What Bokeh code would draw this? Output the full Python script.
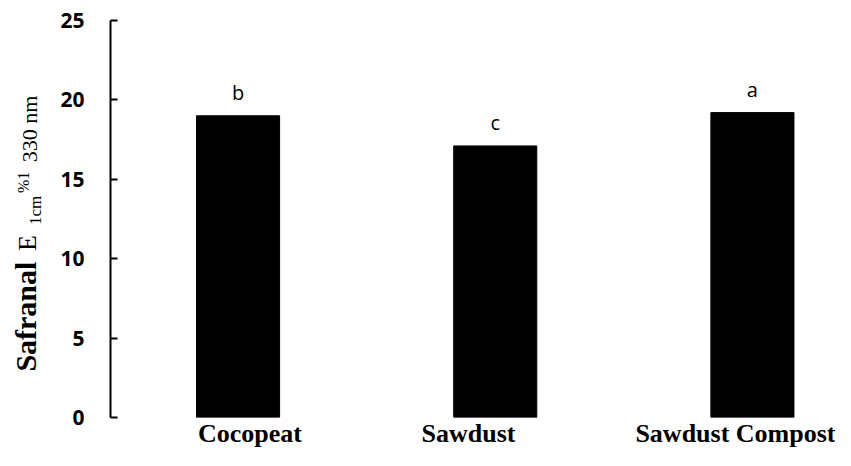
import math
from bokeh.plotting import figure
from bokeh.layouts import row
from bokeh.models import Range1d, ColumnDataSource, FixedTicker
from bokeh.core.properties import value
from bokeh.embed import file_html
from bokeh.resources import INLINE

categories = ["Cocopeat", "Sawdust", "Sawdust Compost"]
safranal = [19.0, 17.1, 19.2]
letters = ["b", "c", "a"]
y_ticks = [0, 5, 10, 15, 20, 25]

# rotated y-axis title pieces: text, font size (px), style, baseline x (px), start y (px from top)
title_text = ["Safranal", "E", "1cm", "%1", "330 nm"]
title_size = [30, 26, 17, 16, 22]
title_style = ["bold", "normal", "normal", "normal", "normal"]
title_bx = [35, 36, 41, 28, 36]
title_sy = [372, 251, 225, 193, 162]

# horizontal shift (px) of each category label relative to its bar, as in the reference
label_shift_px = [12, -27, -15]
PX_PER_CAT = 260.0

H = 450
TW = 50
TOP = 20
BOTTOM = 32

t = figure(width=TW, height=H, output_backend="svg", toolbar_location=None,
           x_range=Range1d(0, TW), y_range=Range1d(BOTTOM, H - TOP),
           x_axis_type=None, y_axis_type=None,
           min_border_left=0, min_border_right=0, min_border_top=TOP, min_border_bottom=BOTTOM)
t.outline_line_color = None
t.xgrid.grid_line_color = None
t.ygrid.grid_line_color = None
for txt, fs, st, bx, sy in zip(title_text, title_size, title_style, title_bx, title_sy):
    t.text(x=[bx - 0.34 * fs], y=[H - sy], text=[txt], angle=math.pi / 2, text_align="left",
           text_baseline="alphabetic", text_font=value("Liberation Serif"),
           text_font_size=value(f"{fs}px"), text_font_style=st, text_color="black")

idx = list(range(len(categories)))
src = ColumnDataSource(dict(x=idx, top=safranal, letter=letters))

p = figure(width=835 - TW, height=H, output_backend="svg", toolbar_location=None,
           x_range=Range1d(-0.496, 2.323), y_range=Range1d(0, 25),
           min_border_left=110 - TW, min_border_right=0, min_border_top=TOP, min_border_bottom=BOTTOM)
p.outline_line_color = None
p.xgrid.grid_line_color = None
p.ygrid.grid_line_color = None

p.vbar(x="x", top="top", bottom=0, width=0.323, source=src, fill_color="black", line_color="black")
p.text(x="x", y="top", text="letter", source=src, y_offset=-23, text_align="center",
       text_baseline="alphabetic", text_font=value("Open Sans"), text_font_size="20px", text_color="black")

ya = p.yaxis[0]
ya.ticker = FixedTicker(ticks=y_ticks)
ya.axis_line_color = "black"
ya.axis_line_width = 2
ya.major_tick_in = 7
ya.major_tick_out = 0
ya.major_tick_line_width = 2
ya.minor_tick_line_color = None
ya.major_label_standoff = 26
ya.major_label_text_font = "Open Sans"
ya.major_label_text_font_style = "bold"
ya.major_label_text_font_size = "21px"
ya.major_label_text_color = "black"

label_pos = [i + s / PX_PER_CAT for i, s in zip(idx, label_shift_px)]
xa = p.xaxis[0]
xa.ticker = FixedTicker(ticks=label_pos)
xa.major_label_overrides = {pos: c for pos, c in zip(label_pos, categories)}
xa.axis_line_color = None
xa.major_tick_line_color = None
xa.minor_tick_line_color = None
xa.major_tick_in = 0
xa.major_tick_out = 0
xa.major_label_standoff = 1
xa.major_label_text_font = "Liberation Serif"
xa.major_label_text_font_style = "bold"
xa.major_label_text_font_size = "26px"
xa.major_label_text_color = "black"

layout = row(t, p, spacing=0)
open("out.html", "w").write(file_html(layout, INLINE))
